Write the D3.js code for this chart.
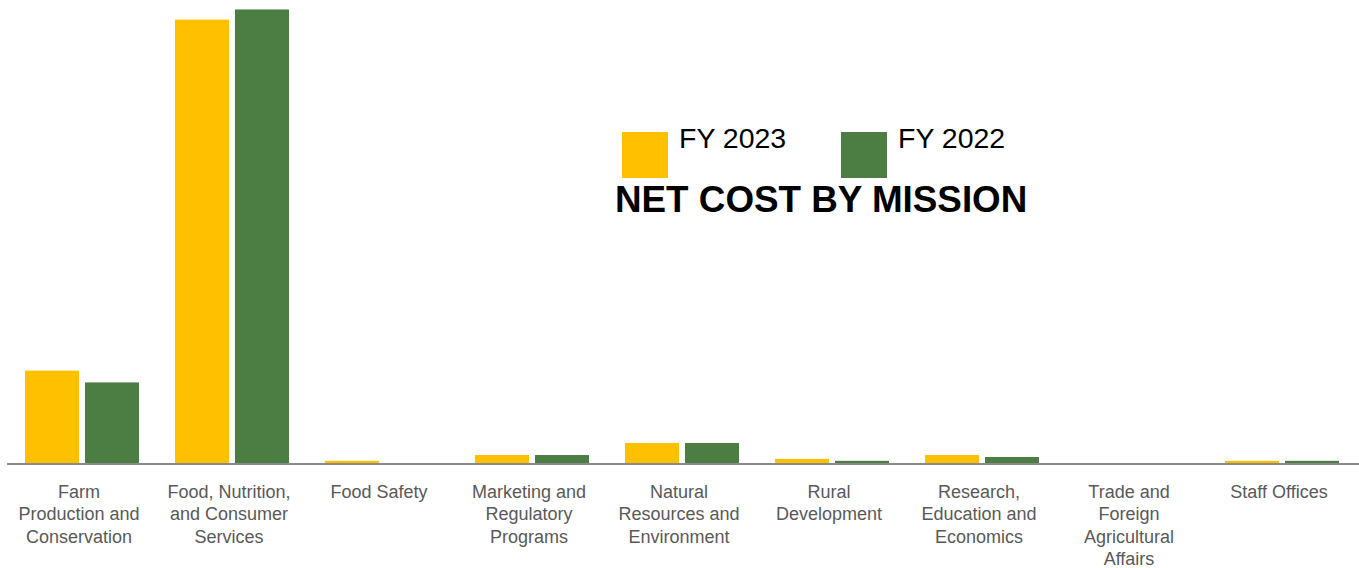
<!DOCTYPE html>
<html>
<head>
<meta charset="utf-8">
<script src="https://cdn.jsdelivr.net/npm/d3@7"></script>
<style>
  html, body { margin: 0; padding: 0; background: #ffffff; }
  svg { display: block; font-family: Arial, "Liberation Sans", sans-serif; }
</style>
</head>
<body>
<svg id="chart" width="1359" height="568"></svg>
<script>
// Net cost by mission area, $ billions
const categories = [
  "Farm Production and Conservation",
  "Food, Nutrition, and Consumer Services",
  "Food Safety",
  "Marketing and Regulatory Programs",
  "Natural Resources and Environment",
  "Rural Development",
  "Research, Education and Economics",
  "Trade and Foreign Agricultural Affairs",
  "Staff Offices"
];
const categoryLines = [
  ["Farm", "Production and", "Conservation"],
  ["Food, Nutrition,", "and Consumer", "Services"],
  ["Food Safety"],
  ["Marketing and", "Regulatory", "Programs"],
  ["Natural", "Resources and", "Environment"],
  ["Rural", "Development"],
  ["Research,", "Education and", "Economics"],
  ["Trade and", "Foreign", "Agricultural", "Affairs"],
  ["Staff Offices"]
];
const seriesNames = ["FY 2023", "FY 2022"];
const fy2023 = [38.3, 183.8, 0.9, 3.3, 8.3, 1.7, 3.3, 0.0, 0.9];
const fy2022 = [33.4, 188.0, 0.0, 3.3, 8.3, 0.9, 2.5, 0.0, 0.9];
const seriesColors = ["#FFC000", "#4C7D43"];
const title = "NET COST BY MISSION";

const svg = d3.select("#chart");
const W = 1359;

const x0 = d3.scaleBand()
  .domain(categories)
  .range([7, 1357])
  .paddingInner(0.24)
  .paddingOuter(0.12);

const x1 = d3.scaleBand()
  .domain(seriesNames)
  .range([0, x0.bandwidth()])
  .paddingInner(0.1);

const y = d3.scaleLinear()
  .domain([0, 200])
  .range([463, -19.5]);

const seriesData = [fy2023, fy2022];

// Bars
const groups = svg.append("g")
  .selectAll("g")
  .data(categories)
  .join("g")
  .attr("transform", d => `translate(${x0(d)},0)`);

groups.selectAll("rect")
  .data((d, i) => seriesNames.map((s, k) => ({ s, v: seriesData[k][i], k })))
  .join("rect")
  .attr("x", d => x1(d.s))
  .attr("width", x1.bandwidth())
  .attr("y", d => y(d.v))
  .attr("height", d => y(0) - y(d.v))
  .attr("fill", d => seriesColors[d.k]);

// Baseline axis
const xAxis = d3.axisBottom(x0).tickSize(0).tickFormat("");
const axisG = svg.append("g")
  .attr("transform", `translate(0,${y(0) + 1})`)
  .call(xAxis);
axisG.select(".domain")
  .attr("d", `M7,0H${W}`)
  .attr("stroke", "#8a8a8a")
  .attr("stroke-width", 2);

// Category labels
const labels = svg.append("g")
  .selectAll("text")
  .data(categories)
  .join("text")
  .attr("text-anchor", "middle")
  .attr("font-size", 18)
  .attr("fill", "#595959")
  .attr("transform", d => `translate(${x0(d) + x0.bandwidth() / 2 - 3},498)`);

labels.selectAll("tspan")
  .data((d, i) => categoryLines[i])
  .join("tspan")
  .attr("x", 0)
  .attr("y", (d, j) => j * 22.4)
  .text(d => d);

// Legend
const legendX = [622, 841];
const legend = svg.append("g")
  .selectAll("g")
  .data(seriesNames)
  .join("g")
  .attr("transform", (d, i) => `translate(${legendX[i]},132)`);

legend.append("rect")
  .attr("width", 46)
  .attr("height", 46)
  .attr("fill", (d, i) => seriesColors[i]);

legend.append("text")
  .attr("x", 57)
  .attr("y", 15.5)
  .attr("font-size", 28.5)
  .attr("fill", "#000")
  .text(d => d);

// Title
svg.append("text")
  .attr("x", 615)
  .attr("y", 212)
  .attr("font-size", 36.8)
  .attr("font-weight", "bold")
  .attr("fill", "#000")
  .text(title);
</script>
</body>
</html>
